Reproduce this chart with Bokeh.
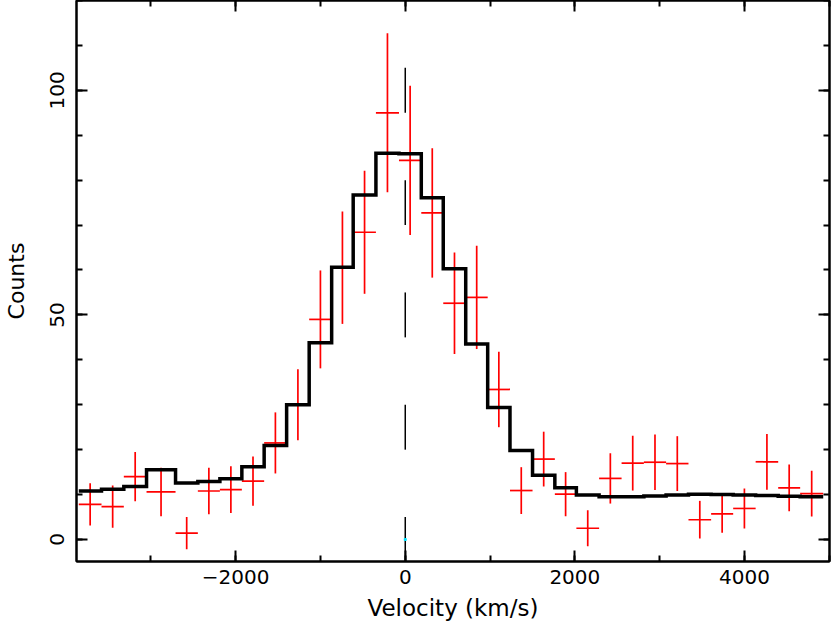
from bokeh.plotting import figure
from bokeh.models import (Range1d, LinearAxis, SingleIntervalTicker,
                          ColumnDataSource, CustomJSTickFormatter)
from bokeh.embed import file_html
from bokeh.resources import INLINE

# bin edges (km/s)
edges = [-3850, -3582, -3319, -3051, -2709, -2446, -2186, -1927, -1664, -1399,
         -1133, -868, -614, -346, -74, 189, 448, 713, 972, 1235,
         1501, 1764, 2018, 2286, 2551, 2814, 3076, 3340, 3607, 3867,
         4132, 4398, 4657, 4929]
# observed counts and errors
counts = [7.8, 7.3, 14.0, 10.6, 1.4, 10.8, 11.1, 13.0, 21.5, 30.0,
          49.0, 60.5, 68.4, 95.0, 84.4, 72.7, 52.6, 53.9, 33.4, 10.9,
          17.9, 10.1, 2.5, 13.6, 17.0, 17.2, 16.9, 4.4, 5.7, 6.9,
          17.3, 11.5, 10.2]
errors = [4.7, 4.7, 5.5, 5.4, 3.6, 5.2, 5.2, 5.5, 6.8, 7.9,
          10.9, 12.5, 13.7, 17.7, 16.6, 14.4, 11.3, 11.5, 8.4, 5.2,
          6.1, 4.9, 4.0, 5.6, 6.1, 6.2, 6.1, 4.2, 4.2, 4.45,
          6.2, 5.2, 5.1]
# model histogram
model = [10.8, 11.2, 11.8, 15.5, 12.6, 12.9, 13.5, 16.2, 20.9, 30.0,
         43.8, 60.6, 76.7, 86.0, 85.9, 76.1, 60.3, 43.5, 29.4, 19.8,
         14.3, 11.5, 9.9, 9.5, 9.5, 9.7, 9.9, 10.1, 10.0, 9.9,
         9.8, 9.6, 9.5]
# dashed marker line at zero velocity
dash_centers = [0, 25, 50, 75, 100, 125]
dash_half = 5

x_ticks = [-2000, 0, 2000, 4000]
x_tick_labels = ["\u22122000", "0", "2000", "4000"]

FONT = "DejaVu Sans"

left = edges[:-1]
right = edges[1:]
centers = [(a + b) / 2 for a, b in zip(left, right)]
src = ColumnDataSource(dict(
    xl=left, xr=right, xc=centers, y=counts,
    ylo=[c - e for c, e in zip(counts, errors)],
    yhi=[c + e for c, e in zip(counts, errors)],
))

p = figure(width=831, height=624, output_backend="svg", toolbar_location=None,
           x_range=Range1d(-3877, 5003), y_range=Range1d(-4.9, 120),
           min_border_left=76, min_border_right=2, min_border_top=0,
           min_border_bottom=63,
           x_axis_label="Velocity (km/s)", y_axis_label="Counts")
p.grid.visible = False
p.outline_line_color = "black"
p.outline_line_width = 2
p.background_fill_color = "white"
p.border_fill_color = "white"


def style_axis(ax, show_labels):
    ax.axis_line_color = "black"
    ax.axis_line_width = 2
    ax.major_tick_line_color = "black"
    ax.major_tick_line_width = 2
    ax.minor_tick_line_color = "black"
    ax.minor_tick_line_width = 2
    ax.major_tick_in = 11
    ax.major_tick_out = 0
    ax.minor_tick_in = 6
    ax.minor_tick_out = 0
    ax.major_label_text_font = FONT
    ax.major_label_text_color = "black"
    ax.major_label_text_font_size = "20px"
    if not show_labels:
        ax.formatter = CustomJSTickFormatter(code="return ''")
        ax.major_label_standoff = 0


xt = SingleIntervalTicker(interval=2000, num_minor_ticks=2)
yt = SingleIntervalTicker(interval=50, num_minor_ticks=5)

p.xaxis.ticker = xt
p.yaxis.ticker = yt
style_axis(p.xaxis[0], True)
style_axis(p.yaxis[0], True)
p.xaxis.major_label_overrides = {t: s for t, s in zip(x_ticks, x_tick_labels)}
p.xaxis.major_label_standoff = 8
p.yaxis.major_label_standoff = 12
p.yaxis.major_label_orientation = "vertical"
for ax in (p.xaxis[0], p.yaxis[0]):
    ax.axis_label_text_font = FONT
    ax.axis_label_text_font_style = "normal"
    ax.axis_label_text_color = "black"
p.xaxis.axis_label_text_font_size = "23px"
p.yaxis.axis_label_text_font_size = "22px"
p.xaxis.axis_label_standoff = 8
p.yaxis.axis_label_standoff = 19

top = LinearAxis(ticker=SingleIntervalTicker(interval=2000, num_minor_ticks=2))
style_axis(top, False)
p.add_layout(top, "above")
rgt = LinearAxis(ticker=SingleIntervalTicker(interval=50, num_minor_ticks=5))
style_axis(rgt, False)
p.add_layout(rgt, "right")

# dashed zero-velocity line
p.segment(x0=[0] * len(dash_centers), y0=[c - dash_half for c in dash_centers],
          x1=[0] * len(dash_centers), y1=[c + dash_half for c in dash_centers],
          line_color="black", line_width=1.5)
p.scatter(x=[0], y=[0], size=2, marker="square", color="#00e5ff")

# data crosses
p.segment(x0="xl", y0="y", x1="xr", y1="y", source=src,
          line_color="#ff0000", line_width=1.7)
p.segment(x0="xc", y0="ylo", x1="xc", y1="yhi", source=src,
          line_color="#ff0000", line_width=1.7)

# model histogram
p.step(x=edges, y=model + [model[-1]], mode="after",
       line_color="black", line_width=3.5, line_join="miter")

open("out.html", "w").write(file_html(p, INLINE))
